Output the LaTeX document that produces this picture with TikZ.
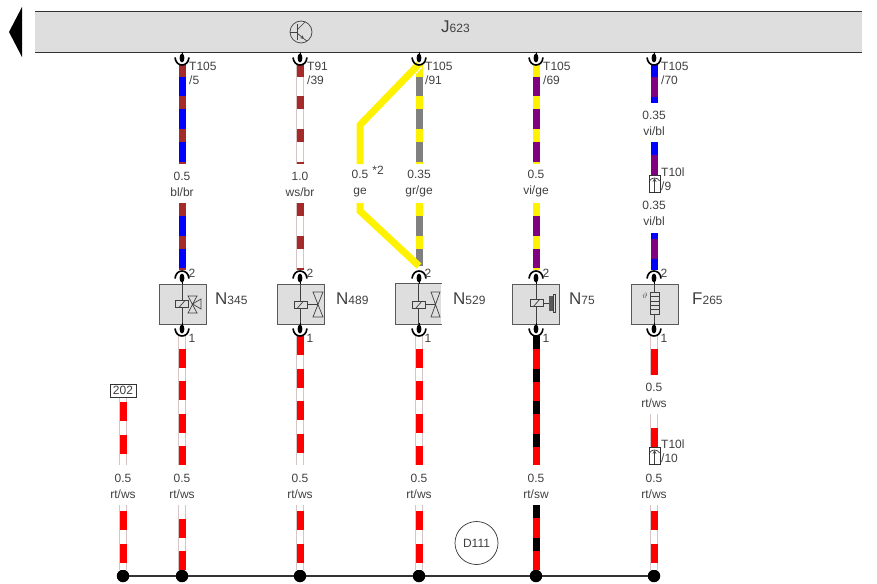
\documentclass[tikz,border=0pt]{standalone}
\usepackage{fontspec}
\setmainfont{Liberation Sans}
\usetikzlibrary{arrows.meta}
\definecolor{wbrown}{HTML}{A52A2A}
\definecolor{wpurple}{HTML}{800080}
\definecolor{wgrey}{HTML}{808080}
\definecolor{wedge}{HTML}{D8C4C4}
\definecolor{boxgrey}{HTML}{DEDEDE}
\newcommand{\bigch}[1]{{\fontsize{17}{17}\selectfont #1}}
\tikzset{wire/.style n args={5}{preaction={draw=#1, solid, line width=7pt}, draw=#2, line width=7pt,
             dash pattern=on #3pt off #4pt, dash phase=#5pt},
           whitewire/.style n args={4}{preaction={draw=wedge, solid, line width=8pt},
             preaction={draw=white, solid, line width=6pt}, draw=#1, line width=7pt,
             dash pattern=on #2pt off #3pt, dash phase=#4pt},
           yellowwire/.style = {draw=yellow, line width=7pt, miter limit=3},
           wlabel/.style = {font=\fontsize{12}{16}\selectfont, align=center, text=black!75, inner sep=0pt},
           plabel/.style = {font=\fontsize{12}{14}\selectfont, align=left, anchor=west, text=black!75, inner sep=0pt},
           dlabel/.style = {font=\fontsize{12}{14}\selectfont, anchor=west, text=black!75, inner sep=0pt},
           devbox/.style = {rectangle, fill=boxgrey, draw=black!65, line width=1pt, minimum width=47pt, minimum height=40pt, inner sep=0pt},
           devline/.style = {draw=black!65, line width=1pt},
           sym/.style = {draw=black!75, line width=0.7pt},
           tbox/.style = {rectangle, fill=white, draw=black!80, line width=0.8pt, minimum width=11pt, minimum height=17pt, inner sep=0pt},
           gnd/.style = {circle, fill=black, minimum size=12.5pt, inner sep=0pt},
           plugu/.pic = {\draw[line width=1pt] (0,-12) -- (0,-6);
             \fill (0,-6) ellipse (2.4 and 4.5);
             \draw[line width=1.6pt] (-7,-6.5) .. controls (-6.5,-1.5) and (-3.5,1) .. (0,1) .. controls (3.5,1) and (6.5,-1.5) .. (7,-6.5);},
           plugn/.pic = {\draw[line width=1pt] (0,12) -- (0,6);
             \fill (0,6) ellipse (2.4 and 4.5);
             \draw[line width=1.6pt] (-7,6.5) .. controls (-6.5,1.5) and (-3.5,-1) .. (0,-1) .. controls (3.5,-1) and (6.5,1.5) .. (7,6.5);},
           relay/.pic = {\draw[sym, fill=boxgrey] (-6.5,-3.5) rectangle (6.5,3.5);
             \draw[sym] (-3,3.5) -- (3,-3.5);}}

\begin{document}
\begin{tikzpicture}[x=1pt, y=-1pt, >=stealth]
    \useasboundingbox (0,0) rectangle (877,583);
    % control unit
    \node[fill=boxgrey, minimum width=827pt, minimum height=40pt, inner sep=0pt] (bar) at (448.5,32) {};
    \draw[black!80, line width=1pt] (bar.north west) -- (bar.north east);
    \draw[black!80, line width=1pt] (bar.south west) -- (bar.south east);
    \fill (9,32) -- (22,7) -- (22,57) -- cycle;
    \node[dlabel] (j623) at (441,27) {\bigch{J}623};
    \draw[sym] (301,32) circle (11);
    \draw[sym] (297,24) -- (297,40);
    \draw[sym] (290,32) -- (297,32);
    \draw[sym] (297,30) -- (305,22);
    \draw[sym, ->] (297,33) -- (304,39);
    \draw[sym] (304,39) -- (307,41);

    \coordinate (a1) at (182,64); \coordinate (a2) at (182,164); \coordinate (a3) at (182,203); \coordinate (a4) at (182,270);
    \coordinate (a5) at (182,335); \coordinate (a6) at (182,465); \coordinate (a7) at (182,505);
    \coordinate (b1) at (300,64); \coordinate (b2) at (300,164); \coordinate (b3) at (300,203); \coordinate (b4) at (300,270);
    \coordinate (b5) at (300,336); \coordinate (b6) at (300,465); \coordinate (b7) at (300,505);
    \coordinate (c1) at (419,64); \coordinate (c2) at (419,164); \coordinate (c3) at (419,203); \coordinate (c4) at (419,266);
    \coordinate (c5) at (419,335); \coordinate (c6) at (419,465); \coordinate (c7) at (419,505);
    \coordinate (d1) at (536,64); \coordinate (d2) at (536,164); \coordinate (d3) at (536,203); \coordinate (d4) at (536,270);
    \coordinate (d5) at (536,336); \coordinate (d6) at (536,465); \coordinate (d7) at (536,505);
    \coordinate (e1) at (654,64); \coordinate (e2) at (654,103); \coordinate (e3) at (654,142); \coordinate (e4) at (654,192);
    \coordinate (e5) at (654,233); \coordinate (e6) at (654,270); \coordinate (e7) at (654,335); \coordinate (e8) at (654,375);
    \coordinate (e9) at (654,414); \coordinate (e10) at (654,465); \coordinate (e11) at (654,505);
    \coordinate (f1) at (123,397); \coordinate (f2) at (123,465); \coordinate (f3) at (123,505);
    \coordinate (y1) at (360,125); \coordinate (y2) at (360,164); \coordinate (y3) at (360,203); \coordinate (y4) at (360,211);

    \node[gnd] (g1) at (123,576) {}; \node[gnd] (g2) at (182,576) {}; \node[gnd] (g3) at (300,576) {};
    \node[gnd] (g4) at (419,576) {}; \node[gnd] (g5) at (536,576) {}; \node[gnd] (g6) at (654,576) {};

    % wires
    \draw[wire={blue}{wbrown}{13}{19.5}{0}] (a1) -- (a2);
    \draw[wire={blue}{wbrown}{13}{19.5}{0}] (a3) -- (a4);
    \draw[whitewire={red}{19}{13.5}{19}] (a5) -- (a6);
    \draw[whitewire={red}{19}{13.5}{19}] (a7) -- (g2);
    \draw[whitewire={wbrown}{13}{19.5}{0}] (b1) -- (b2);
    \draw[whitewire={wbrown}{13}{19.5}{0}] (b3) -- (b4);
    \draw[whitewire={red}{19}{13.5}{0}] (b5) -- (b6);
    \draw[whitewire={red}{19}{13.5}{26.5}] (b7) -- (g3);
    \draw[wire={wgrey}{yellow}{13}{19.5}{0}] (c1) -- (c2);
    \draw[wire={wgrey}{yellow}{13}{19.5}{0}] (c3) -- (c4);
    \draw[whitewire={red}{19}{13.5}{19}] (c5) -- (c6);
    \draw[whitewire={red}{19}{13.5}{26.5}] (c7) -- (g4);
    \draw[wire={wpurple}{yellow}{13}{19.5}{0}] (d1) -- (d2);
    \draw[wire={wpurple}{yellow}{13}{19.5}{0}] (d3) -- (d4);
    \draw[wire={red}{black}{13}{19.5}{0}] (d5) -- (d6);
    \draw[wire={red}{black}{13}{19.5}{0}] (d7) -- (g5);
    \draw[wire={wpurple}{blue}{13}{20}{0}] (e1) -- (e2);
    \draw[wire={wpurple}{blue}{13}{20}{0}] (e3) -- (e4);
    \draw[wire={wpurple}{blue}{13}{20}{7}] (e5) -- (e6);
    \draw[whitewire={red}{27}{14}{27}] (e7) -- (e8);
    \draw[whitewire={red}{40}{14}{40}] (e9) -- (e10);
    \draw[whitewire={red}{19}{13.5}{26.5}] (e11) -- (g6);
    \draw[whitewire={red}{19}{13.5}{27.5}] (f1) -- (f2);
    \draw[whitewire={red}{19}{13.5}{26.5}] (f3) -- (g1);
    \draw[white, line width=9.5pt] (c1) -- (y1);
    \draw[yellowwire] (c1) -- (y1) -- (y2);
    \draw[yellowwire] (y3) -- (y4) -- (c4);

    \draw[black!80, line width=1.2pt] (g1) -- (g2);
    \draw[black!80, line width=1.2pt] (g2) -- (g3);
    \draw[black!80, line width=1.2pt] (g3) -- (g4);
    \draw[black!80, line width=1.2pt] (g4) -- (g5);
    \draw[black!80, line width=1.2pt] (g5) -- (g6);
    \node[circle, draw=black!80, line width=0.7pt, minimum size=43pt, inner sep=0pt, font=\fontsize{12}{14}\selectfont, text=black!75] (d111) at (476.5,543) {D111};

    % devices
    \node[devbox] (n345) at (182.5,304) {};
    \node[devbox] (n489) at (300.5,304) {};
    \node[devbox, draw=none, minimum width=45.5pt] (n529) at (418.7,304) {};
    \draw[devline] (n529.north east) -- (n529.north west) -- (n529.south west) -- (n529.south east);
    \node[devbox] (n75) at (536,304) {};
    \node[devbox] (f265) at (654.5,304) {};
    \draw[sym] (n345.north) -- (n345.south);
    \draw[sym] (n489.north) -- (n489.south);
    \draw[sym] (n529.north) -- (n529.south);
    \draw[sym] (n75.north) -- (n75.south);
    \draw[sym] (f265.north) -- (f265.south);
    \pic at (182,304) {relay};
    \draw[sym] (188,296) -- (197,296) -- (188,313) -- (197,313) -- cycle;
    \draw[sym] (192.5,304) -- (201,299) -- (201,309) -- cycle;
    \pic at (300.5,304.5) {relay};
    \draw[sym] (307,304) -- (318,304);
    \draw[sym] (313,292) -- (323,292) -- (313,317) -- (323,317) -- cycle;
    \pic at (419,304.5) {relay};
    \draw[sym] (425.5,304) -- (435.5,304);
    \draw[sym] (431,292) -- (440,292) -- (431,317) -- (440,317) -- cycle;
    \pic at (536.5,303) {relay};
    \draw[sym] (544,303) -- (549,303);
    \fill[black!65] (549,296) rectangle (553,311);
    \draw[sym, line width=0.5pt] (553,294) rectangle (555,312);
    \draw[sym, fill=boxgrey] (650.5,292) rectangle (659.5,314);
    \draw[sym] (650.5,296.5) -- (659.5,296.5);
    \draw[sym] (650.5,301) -- (659.5,301);
    \draw[sym] (650.5,305) -- (659.5,305);
    \draw[sym] (650.5,309.5) -- (659.5,309.5);
    \node[inner sep=0pt, text=black!75, font=\fontsize{8}{9}\selectfont] (th) at (645,296) {$\vartheta$};

    % plugs
    \pic at (182,64) {plugu}; \pic at (300,64) {plugu}; \pic at (419,64) {plugu}; \pic at (536,64) {plugu}; \pic at (654,64) {plugu};
    \pic at (182,272) {plugn}; \pic at (300,272) {plugn}; \pic at (419,272) {plugn}; \pic at (536,272) {plugn}; \pic at (654,272) {plugn};
    \pic at (182,335) {plugu}; \pic at (300,335) {plugu}; \pic at (419,335) {plugu}; \pic at (536,335) {plugu}; \pic at (654,335) {plugu};

    % T10l connectors
    \node[tbox] (t9) at (654.5,183.5) {};
    \draw[sym, ->] (t9.south) -- (654.5,178);
    \draw[sym] (649.5,181) .. controls (651,177) and (658,177) .. (659.5,181);
    \node[tbox] (t10) at (654.5,455.5) {};
    \draw[sym, ->] (t10.south) -- (654.5,450);
    \draw[sym] (649.5,453) .. controls (651,449) and (658,449) .. (659.5,453);

    \node[rectangle, draw=black!80, fill=white, line width=0.9pt, minimum width=26pt, minimum height=13pt, inner sep=0pt, font=\fontsize{12}{13}\selectfont, text=black!75] (b202) at (123,390.5) {202};

    % labels
    \node[plabel] (p1) at (189,73) {T105\\/5};
    \node[plabel] (p2) at (307,73) {T91\\/39};
    \node[plabel] (p3) at (425,73) {T105\\/91};
    \node[plabel] (p4) at (543,73) {T105\\/69};
    \node[plabel] (p5) at (661,73) {T105\\/70};
    \node[plabel] (p6) at (661,179.5) {T10l\\/9};
    \node[plabel] (p7) at (661,451) {T10l\\/10};

    \node[wlabel] (l1) at (182,184) {0.5\\bl/br};
    \node[wlabel] (l2) at (300,184) {1.0\\ws/br};
    \node[wlabel] (l3) at (360,184) {0.5\\ge};
    \node[wlabel] (l4) at (419,184) {0.35\\gr/ge};
    \node[wlabel] (l5) at (536,184) {0.5\\vi/ge};
    \node[wlabel] (l6) at (654,123) {0.35\\vi/bl};
    \node[wlabel] (l7) at (654,213) {0.35\\vi/bl};
    \node[wlabel] (l8) at (654,395) {0.5\\rt/ws};
    \node[wlabel] (l9) at (123,486) {0.5\\rt/ws};
    \node[wlabel] (l10) at (182,486) {0.5\\rt/ws};
    \node[wlabel] (l11) at (300,486) {0.5\\rt/ws};
    \node[wlabel] (l12) at (419,486) {0.5\\rt/ws};
    \node[wlabel] (l13) at (536,486) {0.5\\rt/sw};
    \node[wlabel] (l14) at (654,486) {0.5\\rt/ws};
    \node[wlabel] (star) at (378,170) {*2};

    \node[dlabel] (tn345) at (215,299) {\bigch{N}345};
    \node[dlabel] (tn489) at (336,299) {\bigch{N}489};
    \node[dlabel] (tn529) at (453,299) {\bigch{N}529};
    \node[dlabel] (tn75) at (569,299) {\bigch{N}75};
    \node[dlabel] (tf265) at (692,299) {\bigch{F}265};

    % pin numbers
    \node[wlabel] (q1) at (192,273) {2}; \node[wlabel] (q2) at (310,273) {2}; \node[wlabel] (q3) at (428,273) {2};
    \node[wlabel] (q4) at (546,273) {2}; \node[wlabel] (q5) at (664,273) {2};
    \node[wlabel] (r1) at (192,338) {1}; \node[wlabel] (r2) at (310,338) {1}; \node[wlabel] (r3) at (428,338) {1};
    \node[wlabel] (r4) at (546,338) {1}; \node[wlabel] (r5) at (664,338) {1};
\end{tikzpicture}
\end{document}
